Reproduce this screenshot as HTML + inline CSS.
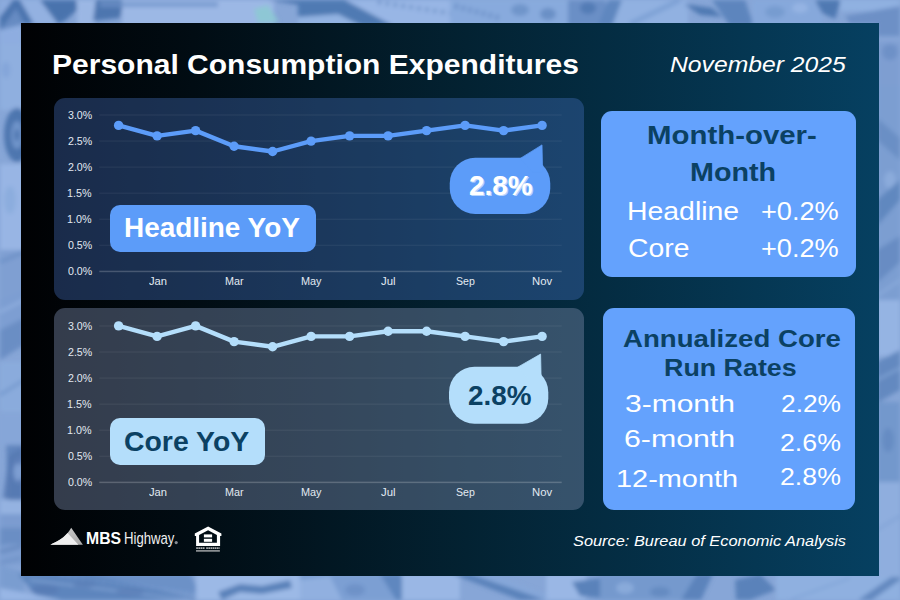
<!DOCTYPE html>
<html><head><meta charset="utf-8"><title>Personal Consumption Expenditures</title>
<style>
html,body{margin:0;padding:0;}
body{width:900px;height:600px;overflow:hidden;background:#86a5d6;font-family:'Liberation Sans', sans-serif;position:relative;}
#bg{position:absolute;left:0;top:0;width:900px;height:600px;}
#main{position:absolute;left:21px;top:22.7px;width:857.7px;height:553px;background:linear-gradient(90deg,#000103 0%,#010c13 20%,#032232 52%,#064061 100%);}
.cp{position:absolute;left:54.2px;width:529.5px;border-radius:11px;}
#cp1{top:97.7px;height:201.9px;background:rgba(72,117,197,.36);}
#cp2{top:307.8px;height:201.8px;background:rgba(118,134,166,.44);}
.rp{position:absolute;border-radius:11px;background:#64a2fd;}
#rp1{left:601.1px;top:111.1px;width:255px;height:165.6px;}
#rp2{left:602.8px;top:308.1px;width:251.8px;height:201.5px;}
.lb{position:absolute;border-radius:10px;}
#lb1{left:110.1px;top:204.9px;width:205.9px;height:46.9px;background:#5c9cf9;}
#lb2{left:110px;top:418px;width:155px;height:47px;background:#b4defb;}
svg.ov{position:absolute;left:0;top:0;width:900px;height:600px;overflow:visible;}
.t{position:absolute;white-space:pre;line-height:normal;transform-origin:0 50%;font-family:'Liberation Sans', sans-serif;}
</style></head><body>
<svg id="bg" viewBox="0 0 900 600"><defs><filter id="bl" x="-5%" y="-5%" width="110%" height="110%"><feGaussianBlur stdDeviation="2.2"/></filter></defs>
<rect width="900" height="600" fill="#87a6d7"/>
<g filter="url(#bl)">
<polygon points="0,0 12,0 0,16" fill="#8cabde"/>
<polygon points="0,17 13,0 20,0 34,24 24,24 16,9 0,36" fill="#4b74af"/>
<polygon points="20,0 40,0 60,24 34,24" fill="#93b1e1"/>
<polygon points="0,30 16,9 24,24 0,30" fill="#668bc2"/>
<polygon points="0,30 22,25 22,46 0,46" fill="#8eade0"/>
<polygon points="40,0 76,0 77,10 66,20 58,24" fill="#4a73ad"/>
<rect x="77" y="0" width="18" height="26" fill="#9bb7e4"/>
<polygon points="96,0 124,0 120,18 93,21" fill="#4d76af"/>
<rect x="122" y="0" width="152" height="26" fill="#9cb8e5"/>
<rect x="100" y="2" width="118" height="5" fill="#6f93c8" opacity="0.75"/>
<polygon points="254,9 268,5 279,22 258,23" fill="#8cc9d2" opacity="0.85"/>
<polygon points="268,0 300,0 300,5" fill="#4f78b1"/>
<polygon points="298,0 345,0 394,26 298,26" fill="#4f7ab3"/>
<polygon points="298,17 338,14 362,26 298,26" fill="#93b3e2"/>
<polygon points="345,0 452,0 452,26 394,26" fill="#98b6e5"/>
<line x1="378" y1="2" x2="500" y2="21" stroke="#5f86be" stroke-width="4" stroke-dasharray="3 5" opacity="0.8"/>
<rect x="450" y="0" width="122" height="26" fill="#88aadd"/>
<line x1="455" y1="6" x2="500" y2="18" stroke="#5a82bb" stroke-width="5" stroke-dasharray="3 4" opacity="0.7"/>
<ellipse cx="520" cy="10" rx="9" ry="6" fill="#6a90c6" opacity="0.8"/>
<ellipse cx="548" cy="14" rx="8" ry="6" fill="#6389c1" opacity="0.8"/>
<rect x="568" y="0" width="40" height="26" fill="#6a8fc6"/>
<ellipse cx="588" cy="8" rx="8" ry="6" fill="#4d77b0" opacity="0.8"/>
<rect x="606" y="0" width="82" height="26" fill="#91b1e1"/>
<polygon points="608,0 622,0 612,26 598,26" fill="#5f87bf"/>
<line x1="630" y1="24" x2="680" y2="0" stroke="#7a9ed3" stroke-width="5" opacity="0.8"/>
<polygon points="684,4 712,8 722,17 700,15" fill="#4f79b2"/>
<polygon points="712,0 745,0 754,26 730,26" fill="#5d85bd"/>
<rect x="752" y="0" width="70" height="26" fill="#86a8db"/>
<ellipse cx="775" cy="12" rx="10" ry="6" fill="#7398cd" opacity="0.8"/>
<ellipse cx="800" cy="8" rx="8" ry="5" fill="#98b6e5" opacity="0.8"/>
<polygon points="815,0 841,0 835,19 822,13" fill="#4f79b2"/>
<rect x="840" y="0" width="60" height="11" fill="#90b1e1"/>
<polygon points="845,16 900,6 900,36 877,36 877,24 850,24" fill="#6d90c6"/>
<rect x="0" y="44" width="24" height="66" fill="#8fafdf"/>
<ellipse cx="6" cy="70" rx="4" ry="8" fill="#7fa1d6" opacity="0.7"/>
<ellipse cx="17" cy="135" rx="13" ry="27" fill="#4e76af"/>
<ellipse cx="17" cy="135" rx="6" ry="14" fill="#7094ca"/>
<ellipse cx="17" cy="135" rx="2.5" ry="6" fill="#4e76af"/>
<rect x="0" y="164" width="24" height="86" fill="#98b5e4"/>
<ellipse cx="10" cy="200" rx="6" ry="14" fill="#8aabdc" opacity="0.8"/>
<rect x="0" y="250" width="24" height="50" fill="#7f9fd2"/>
<line x1="0" y1="262" x2="24" y2="252" stroke="#6a8fc5" stroke-width="4" opacity="0.8"/>
<polygon points="0,300 24,290 24,330 0,350" fill="#7d9ed2"/>
<polygon points="0,330 24,318 24,345 0,360" fill="#6a8ec4"/>
<line x1="0" y1="312" x2="24" y2="300" stroke="#9ab7e5" stroke-width="2" opacity="0.8"/>
<rect x="0" y="362" width="24" height="50" fill="#8aabdc"/>
<line x1="0" y1="395" x2="24" y2="380" stroke="#7095cb" stroke-width="3" opacity="0.8"/>
<polygon points="6,440 24,430 24,505 8,510" fill="#6185bd"/>
<ellipse cx="18" cy="470" rx="6" ry="14" fill="#82a4d7"/>
<ellipse cx="18" cy="470" rx="2.5" ry="6" fill="#5b82ba"/>
<rect x="0" y="415" width="24" height="30" fill="#86a6d8"/>
<rect x="0" y="500" width="24" height="16" fill="#95b3e2"/>
<rect x="0" y="525" width="24" height="40" fill="#7d9ed1"/>
<line x1="0" y1="545" x2="24" y2="535" stroke="#6d92c8" stroke-width="3" opacity="0.8"/>
<polygon points="3,498 9,455 22,448 22,502" fill="#5678b1" opacity="0.85"/>
<ellipse cx="18" cy="472" rx="4.5" ry="9" fill="#7d9ed2"/>
<rect x="0" y="500" width="24" height="14" fill="#94b2e1"/>
<rect x="0" y="514" width="24" height="14" fill="#7b9cd0"/>
<rect x="0" y="528" width="24" height="16" fill="#6b8ec4"/>
<line x1="0" y1="552" x2="22" y2="546" stroke="#5f82ba" stroke-width="3" opacity="0.85"/>
<line x1="0" y1="563" x2="22" y2="558" stroke="#6a8dc3" stroke-width="2.5" opacity="0.8"/>
<polygon points="0,565 24,572 24,600 0,600" fill="#7a9dd0"/>
<polygon points="18,574 92,574 202,600 40,600" fill="#5d85bd"/>
<polygon points="92,574 190,574 202,597 150,588" fill="#6c91c7"/>
<line x1="30" y1="580" x2="190" y2="600" stroke="#9ab7e5" stroke-width="1.6" opacity="0.7"/>
<line x1="60" y1="576" x2="200" y2="594" stroke="#86a8db" stroke-width="1.6" stroke-dasharray="4 3" opacity="0.7"/>
<polygon points="0,588 62,600 0,600" fill="#98b6e5"/>
<rect x="196" y="574" width="108" height="26" fill="#9cb9e6"/>
<polygon points="218,592 240,584 262,586 290,580 292,588 262,594 240,592 222,600" fill="#4f78b1" opacity="0.85"/>
<rect x="300" y="574" width="100" height="26" fill="#7c9fd3"/>
<polygon points="300,580 330,576 342,600 300,600" fill="#9ab8e6" opacity="0.7"/>
<ellipse cx="355" cy="590" rx="10" ry="6" fill="#6a8fc5" opacity="0.8"/>
<polygon points="380,574 400,574 421,600 396,600" fill="#5f87bf"/>
<rect x="402" y="574" width="58" height="26" fill="#9ab7e5"/>
<polygon points="452,574 470,574 545,600 520,600" fill="#5a82ba"/>
<polygon points="470,574 492,574 556,598 545,600" fill="#86a8db" opacity="0.6"/>
<rect x="546" y="574" width="40" height="26" fill="#9ab7e5"/>
<polygon points="572,582 600,578 600,598 580,596" fill="#5a82ba"/>
<rect x="600" y="574" width="100" height="26" fill="#7499cd"/>
<ellipse cx="625" cy="588" rx="9" ry="6" fill="#8eaedd" opacity="0.8"/>
<ellipse cx="660" cy="592" rx="10" ry="5" fill="#6287be" opacity="0.8"/>
<polygon points="697,574 713,574 701,600 681,600" fill="#5b83bb"/>
<polygon points="735,580 760,574 776,590 750,600 736,600" fill="#5a82ba"/>
<rect x="776" y="574" width="124" height="26" fill="#8fb0e0"/>
<line x1="790" y1="600" x2="850" y2="578" stroke="#7fa2d6" stroke-width="2" opacity="0.8"/>
<polygon points="858,600 900,571 900,580 872,600" fill="#6389c0"/>
<ellipse cx="45" cy="590" rx="14" ry="5" fill="#587bb4" opacity="0.75"/>
<ellipse cx="85" cy="584" rx="12" ry="4" fill="#5a7db6" opacity="0.7"/>
<ellipse cx="130" cy="592" rx="14" ry="4" fill="#587bb4" opacity="0.6"/>
<rect x="877" y="42" width="23" height="44" fill="#7e9ed1"/>
<ellipse cx="890" cy="52" rx="8" ry="8" fill="#6a8dc4" opacity="0.8"/>
<rect x="877" y="86" width="23" height="214" fill="#7c9ed1"/>
<polygon points="877,118 900,138 900,160 877,140" fill="#6a8fc5"/>
<ellipse cx="890" cy="180" rx="6" ry="9" fill="#8eaedd" opacity="0.8"/>
<polygon points="877,200 900,180 900,200 877,226" fill="#6188bf"/>
<polygon points="877,250 900,236 900,262 877,283" fill="#678cc3"/>
<line x1="877" y1="296" x2="900" y2="280" stroke="#94b3e2" stroke-width="2" opacity="0.8"/>
<rect x="877" y="300" width="23" height="56" fill="#95b4e3"/>
<polygon points="877,362 900,350 900,390 877,403" fill="#6389c0"/>
<line x1="877" y1="380" x2="900" y2="368" stroke="#88a9da" stroke-width="2" opacity="0.8"/>
<rect x="877" y="402" width="23" height="80" fill="#7398cc"/>
<ellipse cx="888" cy="440" rx="6" ry="12" fill="#6389c1" opacity="0.8"/>
<rect x="877" y="482" width="23" height="95" fill="#8faede"/>
<line x1="877" y1="530" x2="900" y2="516" stroke="#7fa1d5" stroke-width="2.5" opacity="0.8"/>
</g>
</svg>
<div id="main"></div>
<div class="cp" id="cp1"></div>
<div class="cp" id="cp2"></div>
<div class="rp" id="rp1"></div>
<div class="rp" id="rp2"></div>
<svg class="ov" viewBox="0 0 900 600">
<rect x="99.3" y="270.70" width="462.4" height="1.5" fill="#fff" opacity="0.2"/><rect x="99.3" y="244.62" width="462.4" height="1.5" fill="#fff" opacity="0.05"/><rect x="99.3" y="218.55" width="462.4" height="1.5" fill="#fff" opacity="0.05"/><rect x="99.3" y="192.47" width="462.4" height="1.5" fill="#fff" opacity="0.05"/><rect x="99.3" y="166.40" width="462.4" height="1.5" fill="#fff" opacity="0.05"/><rect x="99.3" y="140.32" width="462.4" height="1.5" fill="#fff" opacity="0.05"/><rect x="99.3" y="114.25" width="462.4" height="1.5" fill="#fff" opacity="0.05"/><path d="M118.6,125.4 L157.1,135.9 L195.6,130.6 L234.1,146.3 L272.6,151.5 L311.1,141.1 L349.6,135.9 L388.1,135.9 L426.6,130.6 L465.1,125.4 L503.6,130.6 L542.1,125.4" fill="none" stroke="#5c9cf9" stroke-width="4.4" stroke-linejoin="round" stroke-linecap="round"/><circle cx="118.6" cy="125.4" r="4.7" fill="#5c9cf9"/><circle cx="157.1" cy="135.9" r="4.7" fill="#5c9cf9"/><circle cx="195.6" cy="130.6" r="4.7" fill="#5c9cf9"/><circle cx="234.1" cy="146.3" r="4.7" fill="#5c9cf9"/><circle cx="272.6" cy="151.5" r="4.7" fill="#5c9cf9"/><circle cx="311.1" cy="141.1" r="4.7" fill="#5c9cf9"/><circle cx="349.6" cy="135.9" r="4.7" fill="#5c9cf9"/><circle cx="388.1" cy="135.9" r="4.7" fill="#5c9cf9"/><circle cx="426.6" cy="130.6" r="4.7" fill="#5c9cf9"/><circle cx="465.1" cy="125.4" r="4.7" fill="#5c9cf9"/><circle cx="503.6" cy="130.6" r="4.7" fill="#5c9cf9"/><circle cx="542.1" cy="125.4" r="4.7" fill="#5c9cf9"/>
<rect x="99.3" y="481.65" width="462.4" height="1.5" fill="#fff" opacity="0.2"/><rect x="99.3" y="455.57" width="462.4" height="1.5" fill="#fff" opacity="0.05"/><rect x="99.3" y="429.50" width="462.4" height="1.5" fill="#fff" opacity="0.05"/><rect x="99.3" y="403.42" width="462.4" height="1.5" fill="#fff" opacity="0.05"/><rect x="99.3" y="377.35" width="462.4" height="1.5" fill="#fff" opacity="0.05"/><rect x="99.3" y="351.27" width="462.4" height="1.5" fill="#fff" opacity="0.05"/><rect x="99.3" y="325.20" width="462.4" height="1.5" fill="#fff" opacity="0.05"/><path d="M118.6,325.9 L157.1,336.4 L195.6,325.9 L234.1,341.6 L272.6,346.8 L311.1,336.4 L349.6,336.4 L388.1,331.2 L426.6,331.2 L465.1,336.4 L503.6,341.6 L542.1,336.4" fill="none" stroke="#b4defb" stroke-width="4.4" stroke-linejoin="round" stroke-linecap="round"/><circle cx="118.6" cy="325.9" r="4.7" fill="#b4defb"/><circle cx="157.1" cy="336.4" r="4.7" fill="#b4defb"/><circle cx="195.6" cy="325.9" r="4.7" fill="#b4defb"/><circle cx="234.1" cy="341.6" r="4.7" fill="#b4defb"/><circle cx="272.6" cy="346.8" r="4.7" fill="#b4defb"/><circle cx="311.1" cy="336.4" r="4.7" fill="#b4defb"/><circle cx="349.6" cy="336.4" r="4.7" fill="#b4defb"/><circle cx="388.1" cy="331.2" r="4.7" fill="#b4defb"/><circle cx="426.6" cy="331.2" r="4.7" fill="#b4defb"/><circle cx="465.1" cy="336.4" r="4.7" fill="#b4defb"/><circle cx="503.6" cy="341.6" r="4.7" fill="#b4defb"/><circle cx="542.1" cy="336.4" r="4.7" fill="#b4defb"/>
<rect x="449.75" y="157.8" width="100.50" height="56.25" rx="25.5" ry="25.5" fill="#5c9cf9"/><path d="M520.3,158.4 L542.0,144.9 L542.6,171.8 L532.0,171.8 Z" fill="#5c9cf9" stroke="#5c9cf9" stroke-width="0.8" stroke-linejoin="round"/>
<rect x="449.0" y="366.75" width="99.30" height="57.00" rx="25.5" ry="25.5" fill="#b4defb"/><path d="M517.3,367.4 L540.6,354.1 L541.2,380.8 L530.6,380.8 Z" fill="#b4defb" stroke="#b4defb" stroke-width="0.8" stroke-linejoin="round"/>
<defs><linearGradient id="lg1" x1="0" y1="0" x2="1" y2="1"><stop offset="0" stop-color="#d4d4d4"/><stop offset="1" stop-color="#a8a8a8"/></linearGradient></defs>
<path d="M50.4,544.7 C56,542.1 62,539.5 67.2,533.5 C68.8,531.5 70,529.8 71.2,527.7 L82.9,544.7 Z" fill="url(#lg1)"/>
<path d="M50.4,544.7 C56,542.1 62,539.5 67.5,533.1 L78.4,544.7 Z" fill="#efefef"/>
<circle cx="176.2" cy="542.6" r="1.6" fill="#868c93"/>
<g fill="#fff">
<path fill-rule="evenodd" d="M208.1,526.6 L221.4,533.5 L221.4,536 L220.1,536 L220.1,545.9 L196.1,545.9 L196.1,536 L194.8,536 L194.8,533.5 Z M208.1,530.2 L199.1,534.9 L199.1,542.8 L216.9,542.8 L216.9,534.9 Z"/>
<rect x="203.9" y="534.4" width="8.2" height="3"/>
<rect x="203.9" y="538.8" width="8.2" height="3"/>
</g>
<g stroke="#d8d8d8" stroke-width="1.7" opacity=".8">
<line x1="196.2" y1="548.2" x2="205" y2="548.2" stroke-dasharray="1.7 0.45"/>
<line x1="206.2" y1="548.2" x2="219.7" y2="548.2" stroke-dasharray="1.7 0.45"/>
<line x1="196.2" y1="550.8" x2="219.7" y2="550.8" stroke-dasharray="1.6 0.4"/>
</g>

</svg>
<div class="lb" id="lb1"></div>
<div class="lb" id="lb2"></div>
<div class="t" style="left:52.00px;top:49.86px;font-size:27px;font-weight:700;font-style:normal;color:#fff;transform-origin:0 24.44px;transform:scale(1.1114,1.0);">Personal Consumption Expenditures</div>
<div class="t" style="left:669.75px;top:52.39px;font-size:22px;font-weight:400;font-style:italic;color:#fff;transform-origin:0 19.91px;transform:scale(1.1227,1.0);">November 2025</div>
<div class="t" style="left:68.10px;top:266.10px;font-size:10px;font-weight:400;font-style:normal;color:#e2e9f1;transform-origin:0 9.05px;transform:scale(1.0630,1.0);">0.0%</div>
<div class="t" style="left:68.10px;top:240.02px;font-size:10px;font-weight:400;font-style:normal;color:#e2e9f1;transform-origin:0 9.05px;transform:scale(1.0630,1.0);">0.5%</div>
<div class="t" style="left:67.35px;top:213.95px;font-size:10px;font-weight:400;font-style:normal;color:#e2e9f1;transform-origin:0 9.05px;transform:scale(1.0750,1.0);">1.0%</div>
<div class="t" style="left:67.35px;top:187.87px;font-size:10px;font-weight:400;font-style:normal;color:#e2e9f1;transform-origin:0 9.05px;transform:scale(1.0750,1.0);">1.5%</div>
<div class="t" style="left:68.10px;top:161.80px;font-size:10px;font-weight:400;font-style:normal;color:#e2e9f1;transform-origin:0 9.05px;transform:scale(1.0630,1.0);">2.0%</div>
<div class="t" style="left:68.10px;top:135.72px;font-size:10px;font-weight:400;font-style:normal;color:#e2e9f1;transform-origin:0 9.05px;transform:scale(1.0630,1.0);">2.5%</div>
<div class="t" style="left:68.10px;top:109.65px;font-size:10px;font-weight:400;font-style:normal;color:#e2e9f1;transform-origin:0 9.05px;transform:scale(1.0630,1.0);">3.0%</div>
<div class="t" style="left:148.55px;top:275.60px;font-size:10px;font-weight:400;font-style:normal;color:#e2e9f1;transform-origin:0 9.05px;transform:scale(1.1202,1.0);">Jan</div>
<div class="t" style="left:225.05px;top:275.60px;font-size:10px;font-weight:400;font-style:normal;color:#e2e9f1;transform-origin:0 9.05px;transform:scale(1.0776,1.0);">Mar</div>
<div class="t" style="left:300.75px;top:275.60px;font-size:10px;font-weight:400;font-style:normal;color:#e2e9f1;transform-origin:0 9.05px;transform:scale(1.0866,1.0);">May</div>
<div class="t" style="left:381.35px;top:275.60px;font-size:10px;font-weight:400;font-style:normal;color:#e2e9f1;transform-origin:0 9.05px;transform:scale(1.1393,1.0);">Jul</div>
<div class="t" style="left:455.50px;top:275.60px;font-size:10px;font-weight:400;font-style:normal;color:#e2e9f1;transform-origin:0 9.05px;transform:scale(1.0562,1.0);">Sep</div>
<div class="t" style="left:531.55px;top:275.60px;font-size:10px;font-weight:400;font-style:normal;color:#e2e9f1;transform-origin:0 9.05px;transform:scale(1.1279,1.0);">Nov</div>
<div class="t" style="left:68.10px;top:477.05px;font-size:10px;font-weight:400;font-style:normal;color:#e2e9f1;transform-origin:0 9.05px;transform:scale(1.0630,1.0);">0.0%</div>
<div class="t" style="left:68.10px;top:450.97px;font-size:10px;font-weight:400;font-style:normal;color:#e2e9f1;transform-origin:0 9.05px;transform:scale(1.0630,1.0);">0.5%</div>
<div class="t" style="left:67.35px;top:424.90px;font-size:10px;font-weight:400;font-style:normal;color:#e2e9f1;transform-origin:0 9.05px;transform:scale(1.0750,1.0);">1.0%</div>
<div class="t" style="left:67.35px;top:398.82px;font-size:10px;font-weight:400;font-style:normal;color:#e2e9f1;transform-origin:0 9.05px;transform:scale(1.0750,1.0);">1.5%</div>
<div class="t" style="left:68.10px;top:372.75px;font-size:10px;font-weight:400;font-style:normal;color:#e2e9f1;transform-origin:0 9.05px;transform:scale(1.0630,1.0);">2.0%</div>
<div class="t" style="left:68.10px;top:346.67px;font-size:10px;font-weight:400;font-style:normal;color:#e2e9f1;transform-origin:0 9.05px;transform:scale(1.0630,1.0);">2.5%</div>
<div class="t" style="left:68.10px;top:320.60px;font-size:10px;font-weight:400;font-style:normal;color:#e2e9f1;transform-origin:0 9.05px;transform:scale(1.0630,1.0);">3.0%</div>
<div class="t" style="left:148.55px;top:486.55px;font-size:10px;font-weight:400;font-style:normal;color:#e2e9f1;transform-origin:0 9.05px;transform:scale(1.1202,1.0);">Jan</div>
<div class="t" style="left:225.05px;top:486.55px;font-size:10px;font-weight:400;font-style:normal;color:#e2e9f1;transform-origin:0 9.05px;transform:scale(1.0776,1.0);">Mar</div>
<div class="t" style="left:300.75px;top:486.55px;font-size:10px;font-weight:400;font-style:normal;color:#e2e9f1;transform-origin:0 9.05px;transform:scale(1.0866,1.0);">May</div>
<div class="t" style="left:381.35px;top:486.55px;font-size:10px;font-weight:400;font-style:normal;color:#e2e9f1;transform-origin:0 9.05px;transform:scale(1.1393,1.0);">Jul</div>
<div class="t" style="left:455.50px;top:486.55px;font-size:10px;font-weight:400;font-style:normal;color:#e2e9f1;transform-origin:0 9.05px;transform:scale(1.0562,1.0);">Sep</div>
<div class="t" style="left:531.55px;top:486.55px;font-size:10px;font-weight:400;font-style:normal;color:#e2e9f1;transform-origin:0 9.05px;transform:scale(1.1279,1.0);">Nov</div>
<div class="t" style="left:123.95px;top:212.66px;font-size:27px;font-weight:700;font-style:normal;color:#ffffff;transform-origin:0 24.44px;transform:scale(1.0339,1.0);">Headline YoY</div>
<div class="t" style="left:124.05px;top:426.56px;font-size:27px;font-weight:700;font-style:normal;color:#0b4163;transform-origin:0 24.44px;transform:scale(1.0519,1.0);">Core YoY</div>
<div class="t" style="left:469.30px;top:170.76px;font-size:27px;font-weight:700;font-style:normal;color:#ffffff;transform-origin:0 24.44px;transform:scale(1.0301,1.0);text-shadow:1.3px 1.3px 0 rgba(214,232,255,.75);">2.8%</div>
<div class="t" style="left:467.75px;top:380.67px;font-size:27px;font-weight:700;font-style:normal;color:#0b4163;transform-origin:0 24.44px;transform:scale(1.0309,1.0);">2.8%</div>
<div class="t" style="left:647.15px;top:120.82px;font-size:25.5px;font-weight:700;font-style:normal;color:#0b4163;transform-origin:0 23.08px;transform:scale(1.1527,1.0);">Month-over-</div>
<div class="t" style="left:689.95px;top:157.82px;font-size:25.5px;font-weight:700;font-style:normal;color:#0b4163;transform-origin:0 23.08px;transform:scale(1.1258,1.0);">Month</div>
<div class="t" style="left:627.05px;top:195.87px;font-size:26px;font-weight:400;font-style:normal;color:#fff;transform-origin:0 23.53px;transform:scale(1.0927,1.0);">Headline</div>
<div class="t" style="left:761.05px;top:195.87px;font-size:26px;font-weight:400;font-style:normal;color:#fff;transform-origin:0 23.53px;transform:scale(1.0445,1.0);">+0.2%</div>
<div class="t" style="left:628.30px;top:232.67px;font-size:26px;font-weight:400;font-style:normal;color:#fff;transform-origin:0 23.53px;transform:scale(1.0899,1.0);">Core</div>
<div class="t" style="left:761.05px;top:232.67px;font-size:26px;font-weight:400;font-style:normal;color:#fff;transform-origin:0 23.53px;transform:scale(1.0445,1.0);">+0.2%</div>
<div class="t" style="left:623.35px;top:324.73px;font-size:24.5px;font-weight:700;font-style:normal;color:#0b4163;transform-origin:0 22.17px;transform:scale(1.1274,1.0);">Annualized Core</div>
<div class="t" style="left:664.35px;top:354.03px;font-size:24.5px;font-weight:700;font-style:normal;color:#0b4163;transform-origin:0 22.17px;transform:scale(1.0952,1.0);">Run Rates</div>
<div class="t" style="left:624.85px;top:389.83px;font-size:24.5px;font-weight:400;font-style:normal;color:#fff;transform-origin:0 22.17px;transform:scale(1.2242,1.0);">3-month</div>
<div class="t" style="left:781.05px;top:389.83px;font-size:24.5px;font-weight:400;font-style:normal;color:#fff;transform-origin:0 22.17px;transform:scale(1.0740,1.0);">2.2%</div>
<div class="t" style="left:623.70px;top:424.93px;font-size:24.5px;font-weight:400;font-style:normal;color:#fff;transform-origin:0 22.17px;transform:scale(1.2361,1.0);">6-month</div>
<div class="t" style="left:780.45px;top:428.73px;font-size:24.5px;font-weight:400;font-style:normal;color:#fff;transform-origin:0 22.17px;transform:scale(1.0902,1.0);">2.6%</div>
<div class="t" style="left:616.00px;top:464.83px;font-size:24.5px;font-weight:400;font-style:normal;color:#fff;transform-origin:0 22.17px;transform:scale(1.1795,1.0);">12-month</div>
<div class="t" style="left:780.45px;top:462.53px;font-size:24.5px;font-weight:400;font-style:normal;color:#fff;transform-origin:0 22.17px;transform:scale(1.0902,1.0);">2.8%</div>
<div class="t" style="left:86.10px;top:529.30px;font-size:16.8px;font-weight:700;font-style:normal;color:#fff;transform-origin:0 15.20px;transform:scale(0.9403,1.0);">MBS</div>
<div class="t" style="left:124.00px;top:528.91px;font-size:17px;font-weight:400;font-style:normal;color:#f0f0f0;transform-origin:0 15.38px;transform:scale(0.7733,1.0);">Highway</div>
<div class="t" style="left:572.90px;top:531.97px;font-size:15.5px;font-weight:400;font-style:italic;color:#fff;transform-origin:0 14.03px;transform:scale(1.0551,1.0);">Source: Bureau of Economic Analysis</div>
</body></html>
